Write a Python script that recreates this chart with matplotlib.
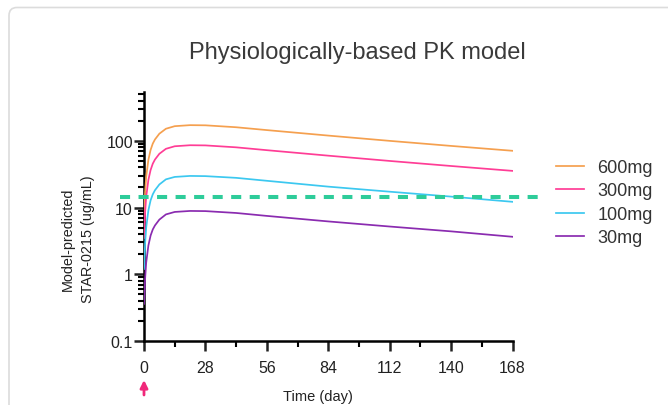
import matplotlib
matplotlib.use("Agg")
import matplotlib.pyplot as plt
import matplotlib.ticker as mticker
import matplotlib.transforms as mtransforms
from matplotlib.patches import FancyBboxPatch

plt.rcParams["font.family"] = ["Liberation Sans", "DejaVu Sans"]

# model-predicted concentrations (ug/mL)
days = [0, 0.5, 1, 2, 3, 4, 5, 7, 10, 14, 21, 28, 42, 56, 84, 112, 140, 168]
conc_600 = [7.4, 17.0, 29.0, 52.0, 73.0, 91.0, 105.0, 128.0, 152.0, 166.0, 172.0, 171.0, 160.0, 145.0, 120.0, 100.0, 84.0, 71.0]
conc_300 = [3.5, 8.4, 14.5, 26.0, 36.5, 45.5, 52.5, 64.0, 76.0, 83.0, 86.0, 85.5, 80.0, 72.5, 60.0, 50.0, 42.0, 35.5]
conc_100 = [1.2, 2.9, 5.0, 9.1, 12.8, 15.8, 18.2, 22.2, 26.5, 28.8, 29.8, 29.6, 27.9, 25.2, 20.6, 17.3, 14.6, 12.2]
conc_30 = [0.36, 0.85, 1.5, 2.7, 3.8, 4.7, 5.4, 6.6, 7.9, 8.6, 8.9, 8.85, 8.3, 7.5, 6.2, 5.2, 4.4, 3.65]

series = [("600mg", conc_600, "#F5A04F"),
          ("300mg", conc_300, "#FF3D96"),
          ("100mg", conc_100, "#3CC8F0"),
          ("30mg", conc_30, "#8A2BB0")]

threshold = 14.5
x_ticks = [0, 28, 56, 84, 112, 140, 168]
y_ticks = [0.1, 1, 10, 100]
y_labels = ["0.1", "1", "10", "100"]

W, H = 668, 406
fig = plt.figure(figsize=(W / 100, H / 100), dpi=100)

# light card outline behind the chart
card = FancyBboxPatch((9, -30), 720, H - 8.5 + 30,
                      boxstyle="round,pad=0,rounding_size=8",
                      transform=mtransforms.IdentityTransform(),
                      facecolor="none", edgecolor="#DCDCDC", lw=1.2,
                      zorder=-10)
fig.add_artist(card)

ax_l, ax_r, ax_t, ax_b = 144, 512.5, 93, 342
ax = fig.add_axes([ax_l / W, 1 - ax_b / H, (ax_r - ax_l) / W, (ax_b - ax_t) / H])
ax.patch.set_visible(False)

for label, vals, color in series:
    ax.plot(days, vals, color=color, lw=1.25, label=label, zorder=3)

ax.axhline(threshold, xmin=(120 - ax_l) / (ax_r - ax_l),
           xmax=(543 - ax_l) / (ax_r - ax_l), color="#2ECC9A",
           lw=2.9, dashes=(2.5, 2.1), clip_on=False, zorder=4)

ax.set_yscale("log")
ax.set_xlim(0, 168)
ax.set_ylim(0.1, 540)

ax.set_xticks(x_ticks)
ax.xaxis.set_minor_locator(mticker.FixedLocator([14, 42, 70, 98, 126, 154]))
ax.set_yticks(y_ticks)
ax.set_yticklabels(y_labels)
ax.yaxis.set_minor_locator(mticker.LogLocator(base=10, subs=range(2, 10)))
ax.yaxis.set_minor_formatter(mticker.NullFormatter())

for side in ("top", "right"):
    ax.spines[side].set_visible(False)
for side in ("left", "bottom"):
    ax.spines[side].set_linewidth(1.8)

ax.tick_params(which="major", length=7, width=1.8, labelsize=11.5,
               colors="#222222")
ax.tick_params(which="minor", length=4.5, width=1.5)
ax.tick_params(axis="y", which="major", pad=1)
ax.tick_params(axis="x", which="major", pad=6.5)

# dosing arrow at day 0
ax.annotate("", xy=(0, (ax_b - 381) / (ax_b - ax_t)),
            xytext=(0, (ax_b - 396) / (ax_b - ax_t)),
            xycoords=ax.get_xaxis_transform(),
            arrowprops=dict(arrowstyle="-|>", color="#F0287A", lw=2.0,
                            mutation_scale=11, shrinkA=0, shrinkB=0),
            annotation_clip=False)

fig.text(357 / W, 1 - 53 / H, "Physiologically-based PK model",
         ha="center", va="center", fontsize=17, color="#3A3A3A")
fig.text(78 / W, 1 - 239 / H, "Model-predicted\nSTAR-0215 (ug/mL)",
         rotation=90, ha="center", va="center", multialignment="center",
         fontsize=10.4, linespacing=1.6, color="#222222")
fig.text(318 / W, 1 - 397.5 / H, "Time (day)", ha="center", va="center",
         fontsize=10.5, color="#222222")

leg = ax.legend(loc="upper left", bbox_to_anchor=(556 / W, 1 - 160 / H),
                bbox_transform=fig.transFigure, frameon=False,
                fontsize=13, handlelength=1.55, handletextpad=0.75,
                labelspacing=0.36, borderpad=0, borderaxespad=0)
for t in leg.get_texts():
    t.set_color("#333333")

fig.savefig("out.png", dpi=100)
